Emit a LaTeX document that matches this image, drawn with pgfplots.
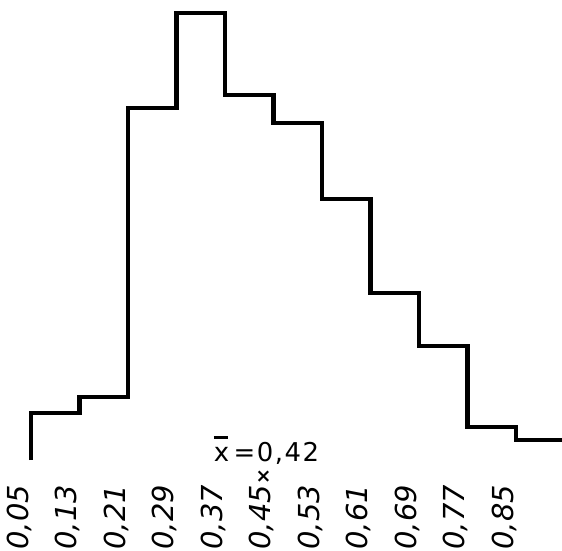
\documentclass[border=0pt]{standalone}
\usepackage{fontspec}
\setmainfont{DejaVu Sans}
\usepackage{pgfplots}
\pgfplotsset{compat=1.18}
\newcommand\xbar{\leavevmode\rlap{\rule[0.86em]{0.56em}{0.12em}}x}
\begin{document}
\begin{tikzpicture}
\begin{axis}[
  x=606.25bp, y=1bp,
  xmin=0.05, xmax=0.93, ymin=0, ymax=460,
  enlargelimits=false, clip=false,
  hide y axis,
  axis x line*=bottom,
  x axis line style={draw=none},
  major tick length=0pt,
  xtick={0.05,0.13,0.21,0.29,0.37,0.45,0.53,0.61,0.69,0.77,0.85},
  xticklabels={{0,05},{0,13},{0,21},{0,29},{0,37},{0,45},{0,53},{0,61},{0,69},{0,77},{0,85}},
  xticklabel style={xshift=-12bp, yshift=-25bp, rotate=90, anchor=east, inner sep=0pt,
    font=\fontsize{29}{29}\selectfont\itshape},
]
\addplot[const plot, black, line width=4.2bp, line join=miter] coordinates {
  (0.05,0) (0.05,47) (0.13,63) (0.21,352) (0.29,447) (0.37,365) (0.45,337)
  (0.53,261) (0.61,167) (0.69,114) (0.77,33) (0.85,20) (0.93,0)
};
\node[font=\fontsize{26}{26}\selectfont\addfontfeatures{LetterSpace=6}] at (axis cs:0.45,10) [xshift=-7bp] {\xbar\,=0,42};
\node[font=\fontsize{19}{19}\selectfont\bfseries] at (axis cs:0.45,-17) [xshift=-10bp] {×};
\end{axis}
\pgfresetboundingbox
\path[use as bounding box] ([shift={(-31bp,-91bp)}]current axis.south west) rectangle ([shift={(531bp,460bp)}]current axis.south west);
\end{tikzpicture}
\end{document}
